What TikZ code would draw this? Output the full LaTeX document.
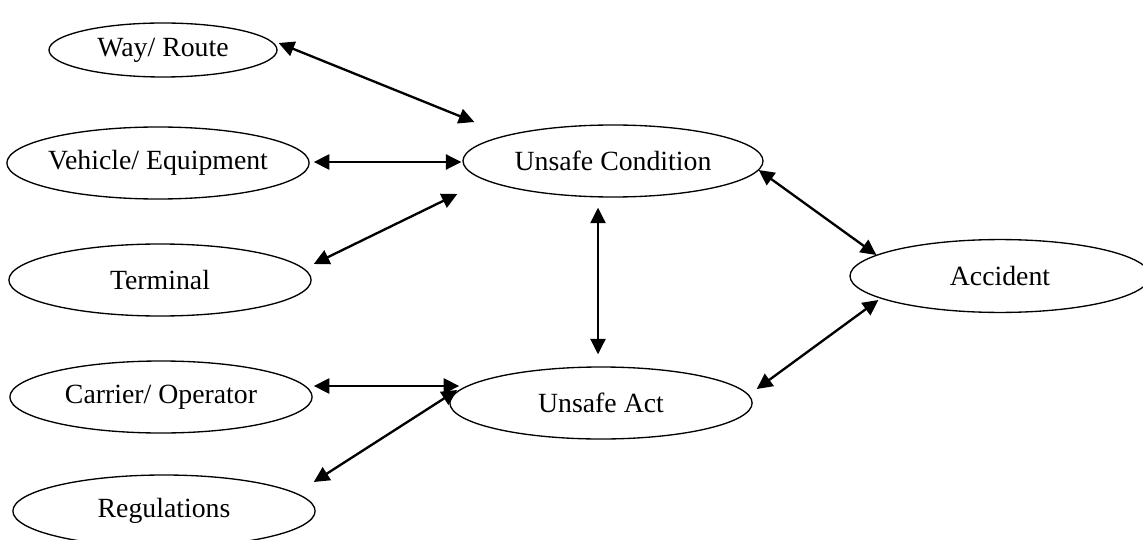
\documentclass[tikz,border=0pt]{standalone}
\usepackage{fontspec}
\setmainfont{Liberation Serif}
\usetikzlibrary{positioning, calc, arrows.meta, shapes.geometric}

\begin{document}
\begin{tikzpicture}[
        x=0.45pt, y=-0.45pt,
        factor/.style={% For every ellipse
            ellipse,
            draw,
            line width=0.6pt,
            inner xsep=-8pt,
            inner ysep=0pt,
            minimum width=136pt,
            minimum height=32.4pt,
            font=\fontsize{12.5}{15}\selectfont,
            },
        both/.style={% Arrows with a head at each end
            {Triangle[length=7pt,width=6.8pt]}-{Triangle[length=7pt,width=6.8pt]},
            line width=1.05pt,
            },
            ]
        \useasboundingbox (0,0) rectangle (1143,539);
        % Causes on the left
        \node[factor, minimum width=102.6pt, minimum height=24.3pt] (way) at (163,50) {Way/ Route};
        \node[factor] (veh) at (158,163) {Vehicle/ Equipment};
        \node[factor] (term) at (160,280) {Terminal};
        \node[factor] (carr) at (161,397) {Carrier/ Operator};
        \node[factor] (reg) at (164,511) {Regulations};
        % Middle and right
        \node[factor, minimum width=135pt] (uc) at (613,161) {Unsafe Condition};
        \node[factor] (ua) at (601,403) {Unsafe Act};
        \node[factor, minimum width=135pt, minimum height=32.8pt] (acc) at (1000,276) {Accident};
        % Connectors
        \draw[both] ($(way.east)+(1,-7)$) -- ($(uc.west)+(12,-39)$);
        \draw[both] ($(veh.east)+(4,-1)$) -- ($(uc.west)+(-1,1)$);
        \draw[both] ($(term.east)+(2,-16)$) -- ($(uc.west)+(-5,33)$);
        \draw[both] ($(uc.south)+(-15,10)$) -- ($(ua.north)+(-3,-12)$);
        \draw[both] ($(uc.east)+(-5,9)$) -- ($(acc.west)+(27,-21)$);
        \draw[both] ($(ua.east)+(4,-14)$) -- ($(acc.west)+(29,24)$);
        \draw[both] ($(carr.east)+(1,-11)$) -- ($(ua.west)+(10,-17)$);
        \draw[both] ($(reg.east)+(-2,-29)$) -- ($(ua.west)+(8,-13)$);
\end{tikzpicture}
\end{document}
